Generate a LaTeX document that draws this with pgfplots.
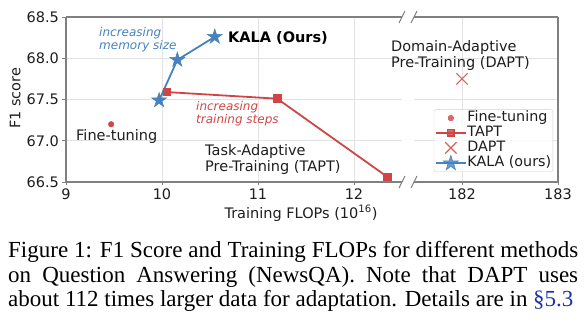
\documentclass[border=0pt]{standalone}
\usepackage{pgfplots}
\pgfplotsset{compat=1.18}
\usepackage{fontspec}
\setmainfont{DejaVu Sans}
\newfontfamily\capfont{Liberation Serif}
\definecolor{myred}{RGB}{208,70,70}
\definecolor{myblue}{RGB}{70,130,190}
\definecolor{spine}{RGB}{128,128,128}
\definecolor{gridc}{RGB}{226,226,226}
\definecolor{txt}{RGB}{30,30,30}
\definecolor{linkblue}{RGB}{30,50,170}

\pgfdeclareplotmark{fstar}{%
  \pgfpathmoveto{\pgfpointpolar{90}{\pgfplotmarksize}}%
  \pgfpathlineto{\pgfpointpolar{126}{0.382\pgfplotmarksize}}%
  \pgfpathlineto{\pgfpointpolar{162}{\pgfplotmarksize}}%
  \pgfpathlineto{\pgfpointpolar{198}{0.382\pgfplotmarksize}}%
  \pgfpathlineto{\pgfpointpolar{234}{\pgfplotmarksize}}%
  \pgfpathlineto{\pgfpointpolar{270}{0.382\pgfplotmarksize}}%
  \pgfpathlineto{\pgfpointpolar{306}{\pgfplotmarksize}}%
  \pgfpathlineto{\pgfpointpolar{342}{0.382\pgfplotmarksize}}%
  \pgfpathlineto{\pgfpointpolar{18}{\pgfplotmarksize}}%
  \pgfpathlineto{\pgfpointpolar{54}{0.382\pgfplotmarksize}}%
  \pgfpathclose
  \pgfusepathqfillstroke
}

\pgfplotsset{
  base/.style={
    scale only axis, height=165pt, ymin=66.5, ymax=68.5,
    ytick={66.5,67,67.5,68,68.5},
    grid=major, major grid style={gridc, line width=1pt},
    axis line style={spine, line width=1.1pt},
    tick style={spine, line width=0.9pt},
    tick align=outside, major tick length=3.5pt,
    ticklabel style={font=\fontsize{14.5}{16}\selectfont, text=txt},
    /pgf/number format/assume math mode=true,
    clip=false,
    axis x line*=box,
    xtick pos=left,
  },
}

\begin{document}
\begin{tikzpicture}
\path[use as bounding box] (0,0) rectangle (586pt,324pt);

% ---------- left panel ----------
\begin{axis}[base, at={(66pt,142pt)}, anchor=south west, width=336pt,
  xmin=9, xmax=12.5, xtick={9,10,11,12},
  axis y line*=left, ytick pos=left,
  yticklabel style={/pgf/number format/.cd, fixed, fixed zerofill, precision=1},
]
\addplot[only marks, mark=*, mark size=2.8pt, myred] coordinates {(9.47,67.20)};
\addplot[myred, line width=1.8pt, mark=square*, mark size=3.4pt] coordinates {(10.05,67.59) (11.20,67.51) (12.35,66.56)};
\addplot[myblue, line width=1.8pt, mark=fstar, mark size=7.8pt, mark options={line width=0.5pt}] coordinates {(9.97,67.49) (10.16,67.98) (10.55,68.26)};

\node[anchor=north west, align=left, inner sep=0, text=myblue, font=\fontsize{12}{12.7}\selectfont\itshape] at (axis cs:9.344,68.376) {increasing\\memory size};
\node[anchor=base west, inner sep=0, text=black, font=\fontsize{14.5}{16}\selectfont\bfseries] at (axis cs:10.6875,68.193) {KALA (Ours)};
\node[anchor=north west, align=left, inner sep=0, text=myred, font=\fontsize{12}{12.7}\selectfont\itshape] at (axis cs:10.354,67.479) {increasing\\training steps};
\node[anchor=base west, inner sep=0, text=txt, font=\fontsize{14.5}{16}\selectfont] at (axis cs:9.104,67.003) {Fine-tuning};
\node[anchor=north west, align=left, inner sep=0, text=txt, font=\fontsize{14.5}{16}\selectfont] at (axis cs:10.448,66.952) {Task-Adaptive\\Pre-Training (TAPT)};
\end{axis}

% ---------- right panel ----------
\begin{axis}[base, at={(414pt,142pt)}, anchor=south west, width=144pt,
  xmin=181.5, xmax=183, xtick={182,183},
  axis y line*=right, ytick pos=right, yticklabels={}, ytick style={draw=none},
  legend image code/.code={\draw[mark repeat=2,mark phase=2,#1] plot coordinates {(0pt,0pt) (15pt,0pt) (30pt,0pt)};},
  legend cell align=left,
  legend style={at={(1,0)}, anchor=south east, xshift=-5pt, yshift=10pt,
    draw=gray!35, rounded corners=2pt, fill=white, fill opacity=0.8, text opacity=1,
    inner xsep=1pt, inner ysep=1pt, row sep=0pt,
    font=\fontsize{14.3}{15}\selectfont, text=txt,
    nodes={inner sep=0.6pt, text height=10.5pt, text depth=3.2pt}},
]
\addlegendimage{myred, only marks, mark=*, mark size=2.8pt}
\addlegendimage{myred, line width=1.8pt, mark=square*, mark size=3.4pt}
\addplot[only marks, mark=x, mark size=8pt, myred!85, line width=1.1pt] coordinates {(182,67.75)};
\addlegendimage{myblue, line width=1.8pt, mark=fstar, mark size=8pt, mark options={line width=0.5pt}}
\legend{Fine-tuning, TAPT, DAPT, KALA (ours)}

\node[anchor=north west, align=left, inner sep=0, text=txt, font=\fontsize{14.5}{16}\selectfont] at (axis cs:181.26,68.213) {Domain-Adaptive\\Pre-Training (DAPT)};
\end{axis}

% break marks
\foreach \x in {402,414}{
  \draw[spine, line width=1.1pt] (\x pt-3pt,136pt) -- (\x pt+3pt,148pt);
  \draw[spine, line width=1.1pt] (\x pt-3pt,301pt) -- (\x pt+3pt,313pt);
}

% axis labels
\node[rotate=90, anchor=center, inner sep=0, text=txt, font=\fontsize{14.5}{16}\selectfont] at (15.3pt,225.7pt) {F1 score};
\node[anchor=center, inner sep=0, text=txt, font=\fontsize{14.5}{16}\selectfont] at (301pt,110.7pt) {Training FLOPs (10\textsuperscript{16})};

% caption
\node[anchor=north west, inner sep=0, text width=570pt, align=justify, font=\capfont\fontsize{23}{24.3}\selectfont] at (8pt,82.5pt)
{\parfillskip=0pt Figure 1: F1 Score and Training FLOPs for different methods\linebreak on Question Answering (NewsQA). Note that DAPT uses\linebreak about 112 times larger data for adaptation. Details are in {\color{linkblue}\S5.3}};
\end{tikzpicture}
\end{document}
